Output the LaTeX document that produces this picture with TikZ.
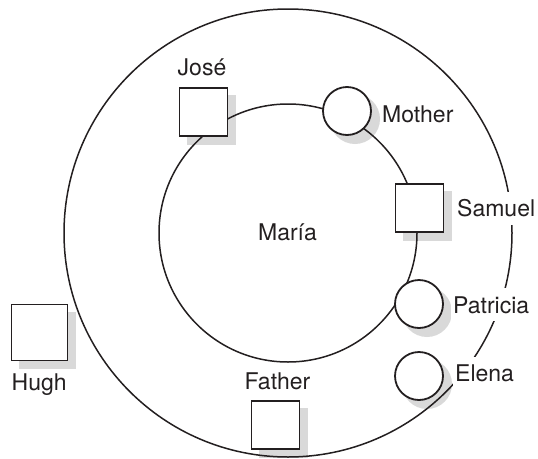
\documentclass[tikz,border=0pt]{standalone}
\usepackage{fontspec}
\setmainfont{TeX Gyre Heros}
\usetikzlibrary{calc}
\pgfdeclarelayer{shadows}
\pgfdeclarelayer{rings}
\pgfsetlayers{shadows,rings,main}
\definecolor{ink}{HTML}{231F20}
\definecolor{shadowgray}{HTML}{D9D9D9}
\begin{document}
\begin{tikzpicture}[x=1pt,y=-1pt,
  every node/.style={font=\fontsize{23}{27}\selectfont, text=ink},
  ring/.style={draw=ink, line width=1.5pt},
  person/.style={draw=ink, fill=white, line width=1.8pt, inner sep=0pt, minimum size=48pt},
  male/.style={person, rectangle},
  female/.style={person, circle},
  tag/.style={inner sep=0pt},
  gaptag/.style={fill=white, inner xsep=2pt, inner ysep=8pt}]
\useasboundingbox (0,0) rectangle (538,458);

% centre of both rings
\coordinate (ego) at (288,233);

% people
\node[male] (jose) at (203.5,112) {};
\node[female] (mother) at (347,111) {};
\node[male] (samuel) at (419.5,208) {};
\node[female] (patricia) at (419,304) {};
\node[female] (elena) at (419,376) {};
\node[male, minimum size=56pt] (hugh) at (39.5,332.5) {};
\node[male] (father) at (275.5,425) {};

% names
\node[tag, anchor=base] (maria) at (287.5,240) {María};
\node[tag, anchor=base] (jose-l) at (202,75) {José};
\node[tag, anchor=base west] (mother-l) at (382,122) {Mother};
\node[gaptag, anchor=base west] (samuel-l) at (455,216.7) {Samuel};
\node[gaptag, anchor=base west] (patricia-l) at (451,313) {Patricia};
\node[gaptag, anchor=base west] (elena-l) at (453,381.7) {Elena};
\node[tag, anchor=base west] (hugh-l) at (11.5,390) {Hugh};
\node[tag, anchor=base] (father-l) at (277.5,389) {Father};

% drop shadows
\begin{pgfonlayer}{shadows}
  \foreach \p in {jose,samuel,hugh,father}
    \fill[shadowgray] ($(\p.south west)+(8,8)$) rectangle ($(\p.north east)+(8,8)$);
  \foreach \p in {mother,patricia,elena}
    \fill[shadowgray] ($(\p.center)+(8,8)$) circle[radius=25pt];
\end{pgfonlayer}

% inner and outer circles
\begin{pgfonlayer}{rings}
  \draw[ring] (ego) circle[radius=129pt];
  \draw[ring] (ego) circle[radius=224pt];
\end{pgfonlayer}
\end{tikzpicture}
\end{document}
